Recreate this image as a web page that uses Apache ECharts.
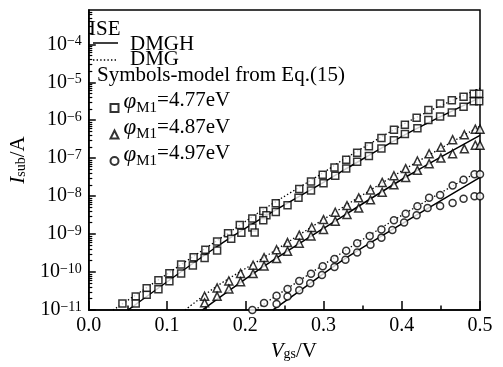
<!DOCTYPE html>
<html><head><meta charset="utf-8">
<script src="https://cdn.jsdelivr.net/npm/echarts@6/dist/echarts.min.js"></script>
<style>html,body{margin:0;padding:0;background:#fff}#c{width:503px;height:367px}</style>
</head><body><div id="c"></div>
<script>
const FONT = 'Liberation Serif';
const xRange = [0, 0.5];
const yRange = [1e-11, 8e-4];
const yMajorTicks = [1e-11, 1e-10, 1e-9, 1e-8, 1e-7, 1e-6, 1e-5, 1e-4];
const legendLabels = { p477: '4.77eV', p487: '4.87eV', p497: '4.97eV' };

// ISE curves
const lineSqDMGH = [[0.050,1e-11],[0.164,4.73e-10],[0.224,2.85e-9],[0.300,2.31e-8],[0.325,4.73e-8],[0.408,4.59e-7],[0.500,3.95e-6]];
const lineSqDMG  = [[0.031,1e-11],[0.164,6.78e-10],[0.224,4.59e-9],[0.300,4.2e-8],[0.328,1e-7],[0.419,1.2e-6],[0.500,6.98e-6]];
const lineTriDMGH = [[0.145,1e-11],[0.224,1.43e-10],[0.300,1.42e-9],[0.408,3.45e-8],[0.500,4.01e-7]];
const lineTriDMG  = [[0.123,1e-11],[0.164,4.33e-11],[0.224,2.45e-10],[0.300,2.45e-9],[0.405,5.33e-8],[0.500,6.98e-7]];
const lineCirDMGH = [[0.235,1e-11],[0.274,3.72e-11],[0.328,2.31e-10],[0.408,2.34e-9],[0.500,3.12e-8]];
const lineCirDMG  = [[0.212,1e-11],[0.328,3.72e-10],[0.405,3.61e-9],[0.500,4.73e-8]];

// model symbols
const sqDMG = [[0.043,1.50e-11],[0.060,2.28e-11],[0.074,3.78e-11],[0.089,6.08e-11],[0.103,9.4e-11],[0.118,1.58e-10],[0.134,2.45e-10],[0.149,3.89e-10],[0.164,6.38e-10],[0.178,1.05e-9],[0.193,1.73e-9],[0.209,2.57e-9],[0.223,4.07e-9],[0.227,3.16e-9],[0.239,6.5e-9],[0.269,1.55e-8],[0.284,2.45e-8],[0.299,3.66e-8],[0.314,5.66e-8],[0.329,9.14e-8],[0.343,1.39e-7],[0.358,2.07e-7],[0.374,3.4e-7],[0.390,5.6e-7],[0.404,7.55e-7],[0.419,1.17e-6],[0.434,1.85e-6],[0.449,2.77e-6],[0.464,3.37e-6],[0.479,4.13e-6],[0.492,5.02e-6],[0.499,5.02e-6]];
const sqDMGH = [[0.060,1.50e-11],[0.074,2.53e-11],[0.089,3.56e-11],[0.103,5.73e-11],[0.118,9.25e-11],[0.133,1.49e-10],[0.148,2.35e-10],[0.164,3.72e-10],[0.182,7.6e-10],[0.195,1.09e-9],[0.209,1.5e-9],[0.212,1.11e-9],[0.223,2.34e-9],[0.239,3.83e-9],[0.254,5.73e-9],[0.268,9.03e-9],[0.284,1.41e-8],[0.300,2.18e-8],[0.315,3.45e-8],[0.329,5.33e-8],[0.343,8.1e-8],[0.358,1.14e-7],[0.374,1.8e-7],[0.390,2.97e-7],[0.404,4.32e-7],[0.420,6.19e-7],[0.434,1.02e-6],[0.449,1.25e-6],[0.464,1.61e-6],[0.479,2.27e-6],[0.492,3.17e-6],[0.499,3.17e-6]];
const triDMG = [[0.148,2.32e-11],[0.164,3.84e-11],[0.179,5.83e-11],[0.194,9.25e-11],[0.210,1.52e-10],[0.224,2.42e-10],[0.240,3.89e-10],[0.254,6.01e-10],[0.269,9.42e-10],[0.285,1.5e-9],[0.300,2.42e-9],[0.315,3.78e-9],[0.330,5.66e-9],[0.345,9.03e-9],[0.360,1.46e-8],[0.375,2.31e-8],[0.390,3.45e-8],[0.405,5.33e-8],[0.420,8.45e-8],[0.435,1.31e-7],[0.450,1.93e-7],[0.465,3.08e-7],[0.480,4.15e-7],[0.494,5.83e-7],[0.500,5.83e-7]];
const triDMGH = [[0.148,1.55e-11],[0.164,2.31e-11],[0.179,3.61e-11],[0.194,5.6e-11],[0.210,9.14e-11],[0.224,1.46e-10],[0.240,2.27e-10],[0.254,3.57e-10],[0.269,5.77e-10],[0.284,8.97e-10],[0.300,1.33e-9],[0.315,2.2e-9],[0.330,3.3e-9],[0.345,4.87e-9],[0.360,8.02e-9],[0.375,1.27e-8],[0.390,1.99e-8],[0.405,3.12e-8],[0.420,4.8e-8],[0.435,7.19e-8],[0.450,1.01e-7],[0.465,1.31e-7],[0.480,1.77e-7],[0.494,2.2e-7],[0.500,2.2e-7]];
const cirDMG = [[0.209,1.0e-11],[0.224,1.54e-11],[0.240,2.38e-11],[0.254,3.61e-11],[0.269,5.83e-11],[0.284,9.04e-11],[0.299,1.43e-10],[0.314,2.21e-10],[0.329,3.66e-10],[0.343,5.77e-10],[0.359,8.97e-10],[0.374,1.33e-9],[0.390,2.34e-9],[0.405,3.47e-9],[0.420,5.4e-9],[0.435,9.03e-9],[0.449,1.08e-8],[0.465,1.9e-8],[0.479,2.72e-8],[0.493,3.79e-8],[0.500,3.79e-8]];
const cirDMGH = [[0.240,1.45e-11],[0.254,2.28e-11],[0.269,3.35e-11],[0.283,5.08e-11],[0.298,8.36e-11],[0.314,1.37e-10],[0.328,2.11e-10],[0.343,3.3e-10],[0.360,5.24e-10],[0.374,8.1e-10],[0.388,1.29e-9],[0.403,2.02e-9],[0.419,3.16e-9],[0.433,4.87e-9],[0.449,5.5e-9],[0.465,6.58e-9],[0.479,8.51e-9],[0.493,1.0e-8],[0.500,1.0e-8]];

// minor tick positions of the log axis (2..9 within each decade)
const yMinorTicks = [];
yMajorTicks.forEach(d => { for (let k = 2; k <= 9; k++) { const v = k * d; if (v < yRange[1]) yMinorTicks.push(v); } });

const DOT = [1.4, 2.2];
function lineS(name, data, dotted) {
  return { type: 'line', name, data, symbol: 'none', smooth: 0.3, z: 2,
    lineStyle: dotted ? { color: '#000', width: 1.3, type: DOT } : { color: '#000', width: 1.5, type: 'solid' } };
}
function scat(name, data, symbol, size) {
  return { type: 'scatter', name, data, symbol, symbolSize: size, clip: false, z: 5,
    itemStyle: { color: '#fff', borderColor: '#000', borderWidth: 1.5 } };
}
const legendFont = '21px "Liberation Serif"';

const chart = echarts.init(document.getElementById('c'), null, { renderer: 'canvas' });
chart.setOption({
  backgroundColor: '#fff',
  animation: false,
  textStyle: { fontFamily: FONT, color: '#000' },
  grid: { left: 81, right: 23, top: 10, bottom: 53, show: true, borderColor: '#000', borderWidth: 1.5, backgroundColor: 'transparent' },
  xAxis: {
    type: 'value', min: xRange[0], max: xRange[1], interval: 0.1,
    axisLine: { show: true, lineStyle: { color: '#000', width: 1.5 } },
    axisTick: { show: true, inside: true, length: 9, lineStyle: { color: '#000', width: 1.5 } },
    minorTick: { show: true, splitNumber: 2, length: 4.5, lineStyle: { color: '#000', width: 1.5 } },
    splitLine: { show: false },
    axisLabel: { fontFamily: FONT, fontSize: 20, color: '#000', margin: 6, formatter: v => v.toFixed(1) },
    name: '{i|V}{sub|gs}{t|/V}', nameLocation: 'middle', nameGap: 25,
    nameTextStyle: { padding: [0, 0, 0, 19], rich: {
      i: { fontFamily: FONT, fontSize: 21, fontStyle: 'italic', lineHeight: 20, color: '#000' },
      sub: { fontFamily: FONT, fontSize: 14, lineHeight: 4, verticalAlign: 'bottom', color: '#000' },
      t: { fontFamily: FONT, fontSize: 21, lineHeight: 20, color: '#000' } } }
  },
  yAxis: [{
    type: 'log', logBase: 10, min: yRange[0], max: yRange[1],
    axisLine: { show: true, lineStyle: { color: '#000', width: 1.5 } },
    axisTick: { show: true, inside: true, length: 7, customValues: yMajorTicks, lineStyle: { color: '#000', width: 1.5 } },
    splitLine: { show: false },
    axisLabel: { customValues: yMajorTicks, margin: 7,
      formatter: v => '{b|10}{s|\u2212' + Math.round(-Math.log10(v)) + '}',
      rich: {
        b: { fontFamily: FONT, fontSize: 20, lineHeight: 20, color: '#000' },
        s: { fontFamily: FONT, fontSize: 14, lineHeight: 6, verticalAlign: 'top', color: '#000' } } },
    name: '{i|I}{sub|sub}{t|/A}', nameLocation: 'middle', nameGap: 52,
    nameTextStyle: { rich: {
      i: { fontFamily: FONT, fontSize: 21, fontStyle: 'italic', lineHeight: 20, color: '#000' },
      sub: { fontFamily: FONT, fontSize: 14, lineHeight: 4, verticalAlign: 'bottom', color: '#000' },
      t: { fontFamily: FONT, fontSize: 21, lineHeight: 20, color: '#000' } } }
  }, {
    type: 'log', logBase: 10, min: yRange[0], max: yRange[1], position: 'left',
    axisLine: { show: false },
    axisTick: { show: true, inside: true, length: 3.5, customValues: yMinorTicks, lineStyle: { color: '#000', width: 1.2 } },
    axisLabel: { show: false }, splitLine: { show: false }
  }],
  legend: [{
    data: ['p477', 'p487', 'p497'], orient: 'vertical', left: 109.5, top: 90, padding: 0, itemGap: 1,
    itemWidth: 8, itemHeight: 8, selectedMode: false,
    formatter: n => '{p|\u03c6}{sub|M1}{t|=' + legendLabels[n] + '}',
    textStyle: { rich: {
      p: { fontFamily: FONT, fontSize: 23, fontStyle: 'italic', lineHeight: 20, verticalAlign: 'top', color: '#000' },
      sub: { fontFamily: FONT, fontSize: 15, lineHeight: 36, color: '#000' },
      t: { fontFamily: FONT, fontSize: 21, lineHeight: 20, verticalAlign: 'top', color: '#000' } } }
  }],
  graphic: [
    { type: 'text', style: { x: 89, y: 29, text: 'ISE', font: legendFont, fill: '#000', verticalAlign: 'middle' } },
    { type: 'line', shape: { x1: 93, y1: 43, x2: 118, y2: 43 }, style: { stroke: '#000', lineWidth: 1.5 } },
    { type: 'text', style: { x: 130, y: 44, text: 'DMGH', font: legendFont, fill: '#000', verticalAlign: 'middle' } },
    { type: 'line', shape: { x1: 93, y1: 60, x2: 118, y2: 60 }, style: { stroke: '#000', lineWidth: 1.3, lineDash: DOT } },
    { type: 'text', style: { x: 130, y: 59, text: 'DMG', font: legendFont, fill: '#000', verticalAlign: 'middle' } },
    { type: 'text', style: { x: 97, y: 75, text: 'Symbols-model from Eq.(15)', font: legendFont, fill: '#000', verticalAlign: 'middle' } }
  ],
  series: [
    lineS('DMGH', lineSqDMGH, false), lineS('DMG', lineSqDMG, true),
    lineS('DMGH', lineTriDMGH, false), lineS('DMG', lineTriDMG, true),
    lineS('DMGH', lineCirDMGH, false), lineS('DMG', lineCirDMG, true),
    scat('p477', sqDMG, 'rect', 7), scat('p477', sqDMGH, 'rect', 7),
    scat('p487', triDMG, 'triangle', 8), scat('p487', triDMGH, 'triangle', 8),
    scat('p497', cirDMG, 'circle', 7), scat('p497', cirDMGH, 'circle', 7)
  ]
});
</script>
</body></html>
